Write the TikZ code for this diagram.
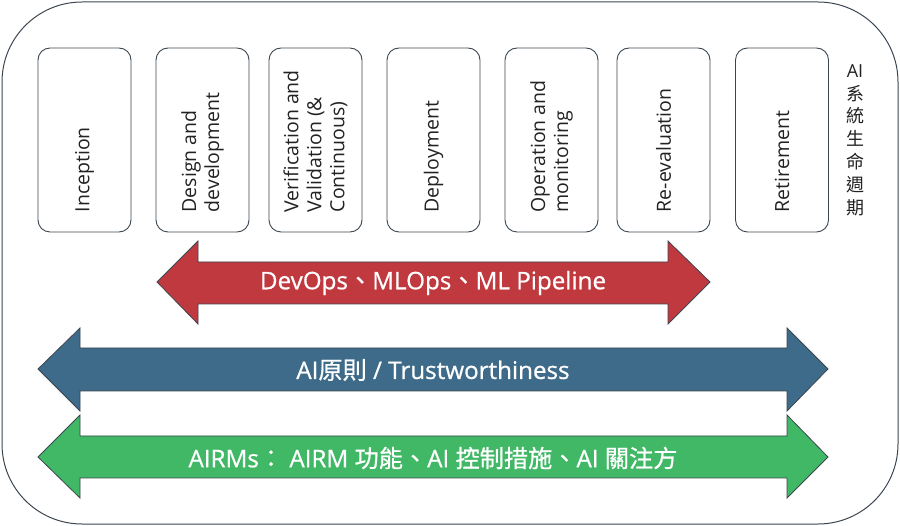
\documentclass[tikz,border=0pt]{standalone}
\usepackage{fontspec}
\setmainfont{Open Sans}
\newfontfamily\cjk{Noto Sans CJK TC}
\newfontfamily\arrowlatin{Open Sans}[FakeBold=0.7]
\newfontfamily\arrowcjk{Noto Sans CJK TC}[FakeBold=0.7]
\newcommand\ac[1]{{\arrowcjk #1}}
\definecolor{edge}{HTML}{3C4650}
\definecolor{redarr}{HTML}{C0393F}
\definecolor{bluearr}{HTML}{3E6B8A}
\definecolor{greenarr}{HTML}{40B865}
\definecolor{txt}{HTML}{222222}
\tikzset{
  stagebox/.style={draw=edge, line width=0.9pt, rounded corners=12pt,
    minimum width=93pt, minimum height=184pt, inner sep=0pt},
  stagetext/.style={rotate=90, anchor=west, align=left, text=txt,
    font=\fontsize{19.5}{23}\selectfont, inner sep=0pt},
  arrowshape/.style={draw=edge, line width=0.8pt},
  arrowtext/.style={text=white, font=\arrowlatin\fontsize{24.2}{26}\selectfont, inner sep=0pt}
}
\begin{document}
\begin{tikzpicture}[x=1pt,y=-1pt]
\useasboundingbox (0,0) rectangle (900,526);
\draw[edge, line width=1pt, rounded corners=80pt] (2,2) rectangle (898,524);
\node[stagebox] (s1) at (84.5,140) {};
\node[stagebox] (s2) at (202.5,140) {};
\node[stagebox] (s3) at (315.5,140) {};
\node[stagebox] (s4) at (433.5,140) {};
\node[stagebox] (s5) at (551.5,140) {};
\node[stagebox] (s6) at (663.5,140) {};
\node[stagebox] (s7) at (782,140) {};
\node[stagetext] (l1) at ([yshift=20pt]s1.south) {Inception};
\node[stagetext] (l2) at ([yshift=20pt]s2.south) {Design and\\development};
\node[stagetext] (l3) at ([yshift=20pt]s3.south) {Verification and\\Validation (\&\\Continuous)};
\node[stagetext] (l4) at ([yshift=20pt]s4.south) {Deployment};
\node[stagetext] (l5) at ([yshift=20pt]s5.south) {Operation and\\monitoring};
\node[stagetext] (l6) at ([yshift=20pt]s6.south) {Re-evaluation};
\node[stagetext] (l7) at ([yshift=20pt]s7.south) {Retirement};
\node[align=center, text=txt, font=\fontsize{18}{22.8}\selectfont, inner sep=0pt] (life) at (855,140)
  {AI\\{\cjk 系}\\{\cjk 統}\\{\cjk 生}\\{\cjk 命}\\{\cjk 週}\\{\cjk 期}};
% red arrow
\fill[redarr] (157,282)--(198,241)--(198,262)--(668,262)--(668,241)--(710,282)--(668,324)--(668,304)--(198,304)--(198,324)--cycle;
\draw[arrowshape] (157,282)--(198,241)--(198,262)--(668,262)--(668,241)--(710,282)--(668,324)--(668,304)--(198,304)--(198,324)--cycle;
\node[arrowtext] (t1) at (433,283) {DevOps\ac{、}MLOps\ac{、}ML Pipeline};
% blue arrow
\fill[bluearr] (38,369)--(80,328)--(80,348)--(787,348)--(787,328)--(828,369)--(787,411)--(787,391)--(80,391)--(80,411)--cycle;
\draw[arrowshape] (38,369)--(80,328)--(80,348)--(787,348)--(787,328)--(828,369)--(787,411)--(787,391)--(80,391)--(80,411)--cycle;
\node[arrowtext] (t2) at (433,370) {AI\ac{原則} / Trustworthiness};
% green arrow
\fill[greenarr] (38,457)--(80,415)--(80,436)--(787,436)--(787,415)--(828,457)--(787,498)--(787,478)--(80,478)--(80,498)--cycle;
\draw[arrowshape] (38,457)--(80,415)--(80,436)--(787,436)--(787,415)--(828,457)--(787,498)--(787,478)--(80,478)--(80,498)--cycle;
\node[arrowtext] (t3) at (433,458) {AIRMs\ac{：} AIRM \ac{功能、}AI \ac{控制措施、}AI \ac{關注方}};
\end{tikzpicture}
\end{document}
